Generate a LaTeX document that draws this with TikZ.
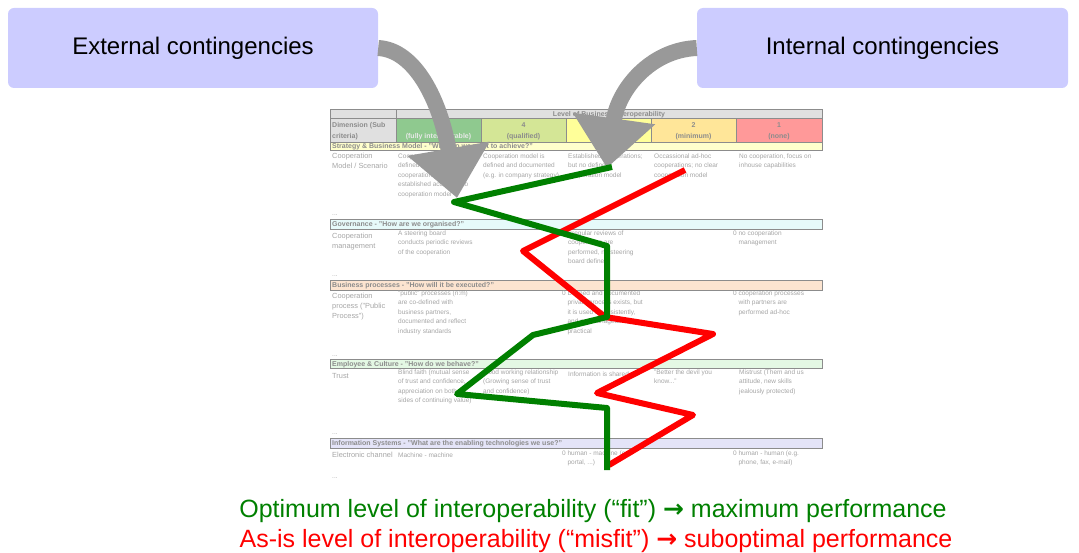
\documentclass[tikz,border=0pt]{standalone}
\usepackage{fontspec}
\setmainfont{Liberation Sans}
\newfontfamily\arrowfont{DejaVu Sans}
\usetikzlibrary{arrows.meta}
\definecolor{boxblue}{RGB}{204,204,255}
\definecolor{arrgray}{RGB}{153,153,153}
\definecolor{txtgray}{RGB}{165,165,165}
\definecolor{hdgray}{RGB}{140,140,140}
\definecolor{hdfill}{RGB}{224,224,224}
\definecolor{fitgreen}{RGB}{0,128,0}
\definecolor{misfitred}{RGB}{255,0,0}
\definecolor{lvfive}{RGB}{143,201,143}
\definecolor{lvfour}{RGB}{212,230,150}
\definecolor{lvthree}{RGB}{255,255,153}
\definecolor{lvtwo}{RGB}{255,230,153}
\definecolor{lvone}{RGB}{255,153,153}
\definecolor{stratfill}{RGB}{255,255,204}
\definecolor{govfill}{RGB}{230,250,250}
\definecolor{procfill}{RGB}{252,228,208}
\definecolor{culfill}{RGB}{228,248,228}
\definecolor{infofill}{RGB}{228,228,248}
\newcommand{\zind}{\phantom{0 }}

\begin{document}
\begin{tikzpicture}[x=1pt,y=-1pt,
  cbox/.style={rounded corners=6pt, fill=boxblue, inner sep=0pt, font=\fontsize{24}{28}\selectfont},
  cell/.style={font=\fontsize{6.5}{9.5}\selectfont, text=txtgray, anchor=north west, inner sep=0pt,
    align=left, execute at begin node=\strut, yshift=6.65pt},
  dim/.style={cell, font=\fontsize{7.4}{10}\selectfont, yshift=0.35pt},
  hcell/.style={draw=hdgray, line width=0.7pt},
  htext/.style={font=\bfseries\fontsize{7}{8}\selectfont, text=hdgray, inner sep=0pt, anchor=base},
  sect/.style={htext, anchor=base west},
  concl/.style={font=\fontsize{25}{29}\selectfont},
  contarrow/.style={draw=arrgray, line width=16pt, -{Triangle[width=80pt,length=50pt]}},
  level/.style={line width=6pt, line join=round}]

\useasboundingbox (0,0) rectangle (1079,553);

% contingency boxes
\node[cbox, minimum width=370pt, minimum height=80pt] (ext) at (193,48) {External contingencies};
\node[cbox, minimum width=371pt, minimum height=80pt] (int) at (882.5,48) {Internal contingencies};

% table head
\filldraw[hcell, fill=hdfill] (330,109) rectangle (396,118);
\filldraw[hcell, fill=hdfill] (396,109) rectangle (822,118);
\filldraw[hcell, fill=hdfill] (330,118) rectangle (396,142);
\filldraw[hcell, fill=lvfive] (396,118) rectangle (481,142);
\filldraw[hcell, fill=lvfour] (481,118) rectangle (566,142);
\filldraw[hcell, fill=lvthree] (566,118) rectangle (651,142);
\filldraw[hcell, fill=lvtwo] (651,118) rectangle (736,142);
\filldraw[hcell, fill=lvone] (736,118) rectangle (822,142);
\node[htext] (lvl) at (609,116.5) {Level of Business Interoperability};
\node[sect] (dimh) at (332,128) {Dimension (Sub};
\node[sect] (dimh2) at (332,139) {criteria)};
\node[htext] (n5) at (438.5,128) {5};
\node[htext, text=white!80!hdgray] (l5) at (438.5,139) {(fully interoperable)};
\node[htext] (n4) at (523.5,128) {4};
\node[htext] (l4) at (523.5,139) {(qualified)};
\node[htext] (n3) at (608.5,128) {3};
\node[htext] (l3) at (608.5,139) {(moderate)};
\node[htext] (n2) at (693.5,128) {2};
\node[htext] (l2) at (693.5,139) {(minimum)};
\node[htext] (n1) at (779,128) {1};
\node[htext] (l1) at (779,139) {(none)};

% strategy
\filldraw[hcell, fill=stratfill] (330,142) rectangle (822,150);
\node[sect] (strat) at (332,148.5) {Strategy \& Business Model - "What do we want to achieve?"};
\node[dim] (stratd) at (332,160) {Cooperation\\Model / Scenario};
\node[cell] (strat5) at (398,160) {Cooperation model is\\defined and documented,\\cooperations are\\established according to\\cooperation model};
\node[cell] (strat4) at (483,160) {Cooperation model is\\defined and documented\\(e.g. in company strategy)};
\node[cell] (strat3) at (568,160) {Established cooperations;\\but no defined\\cooperation model};
\node[cell] (strat2) at (654,160) {Occassional ad-hoc\\cooperations; no clear\\cooperation model};
\node[cell] (strat1) at (739,160) {No cooperation, focus on\\inhouse capabilities};
\node[cell] (dots1) at (332,215) {...};

% governance
\filldraw[hcell, fill=govfill] (330,219) rectangle (822,229.5);
\node[sect] (gov) at (332,227) {Governance - "How are we organised?"};
\node[dim] (govd) at (332,240) {Cooperation\\management};
\node[cell] (gov5) at (398,237) {A steering board\\conducts periodic reviews\\of the cooperation};
\node[cell] (gov3) at (568,237) {Irregular reviews of\\cooperation are\\performed, no steering\\board defined};
\node[cell] (gov1) at (733,237) {0 no cooperation\\\zind management};
\node[cell] (dots2) at (332,276) {...};

% business processes
\filldraw[hcell, fill=procfill] (330,280) rectangle (822,290);
\node[sect] (proc) at (332,287.5) {Business processes - "How will it be executed?"};
\node[dim] (procd) at (332,300) {Cooperation\\process ("Public\\Process")};
\node[cell] (proc5) at (398,297) {"public" processes (n:m)\\are co-defined with\\business partners,\\documented and reflect\\industry standards};
\node[cell] (proc3) at (562,297) {0 Defined and documented\\\zind private process exists, but\\\zind it is used inconsistently,\\\zind and not manageable\\\zind practical};
\node[cell] (proc1) at (733,297) {0 cooperation processes\\\zind with partners are\\\zind performed ad-hoc};
\node[cell] (dots3) at (332,356) {...};

% employee & culture
\filldraw[hcell, fill=culfill] (330,359) rectangle (822,368.5);
\node[sect] (cul) at (332,366.5) {Employee \& Culture - "How do we behave?"};
\node[dim] (culd) at (332,378) {Trust};
\node[cell] (cul5) at (398,376) {Blind faith (mutual sense\\of trust and confidence,\\appreciation on both\\sides of continuing value)};
\node[cell] (cul4) at (483,376) {Good working relationship\\(Growing sense of trust\\and confidence)};
\node[cell] (cul3) at (568,376) {Information is shared};
\node[cell] (cul2) at (654,376) {"Better the devil you\\know..."};
\node[cell] (cul1) at (739,376) {Mistrust (Them and us\\attitude, new skills\\jealously protected)};
\node[cell] (dots4) at (332,434) {...};

% information systems
\filldraw[hcell, fill=infofill] (330,438) rectangle (822,448);
\node[sect] (info) at (332,445.5) {Information Systems - "What are the enabling technologies we use?"};
\node[dim] (infod) at (332,457) {Electronic channel};
\node[cell] (info5) at (398,457) {Machine - machine};
\node[cell] (info3) at (562,457) {0 human - machine (e.g.\\\zind portal, ...)};
\node[cell] (info1) at (733,457) {0 human - human (e.g.\\\zind phone, fax, e-mail)};
\node[cell] (dots5) at (332,478) {...};

% contingencies pushing on the table
\coordinate (exttip) at (457,198);
\coordinate (inttip) at (607,168);
\draw[contarrow] (ext.east) .. controls (415,50) and (440,100) .. (exttip);
\draw[contarrow] (int.west) .. controls (650,50) and (618,90) .. (inttip);

% as-is profile
\coordinate (r1) at (685,170);
\coordinate (r2) at (523,251);
\coordinate (r3) at (605,317);
\coordinate (r4) at (713,334);
\coordinate (r5) at (597,393);
\coordinate (r6) at (693,415);
\coordinate (r7) at (609,465);
\draw[level, misfitred] (r1) -- (r2) -- (r3) -- (r4) -- (r5) -- (r6) -- (r7);

% optimum profile
\coordinate (g1) at (612,167);
\coordinate (g2) at (454,202);
\coordinate (g3) at (607,246);
\coordinate (g4) at (607,317);
\coordinate (g5) at (533,335);
\coordinate (g6) at (457,394);
\coordinate (g7) at (607,408);
\coordinate (g8) at (607,470);
\draw[level, fitgreen] (g1) -- (g2) -- (g3) -- (g4) -- (g5) -- (g6) -- (g7) -- (g8);

% conclusions
\node[concl, text=fitgreen] (fit) at (593,511) {Optimum level of interoperability (“fit”) {\arrowfont\bfseries →} maximum performance};
\node[concl, text=misfitred] (misfit) at (596,541) {As-is level of interoperability (“misfit”) {\arrowfont\bfseries →} suboptimal performance};
\end{tikzpicture}
\end{document}
